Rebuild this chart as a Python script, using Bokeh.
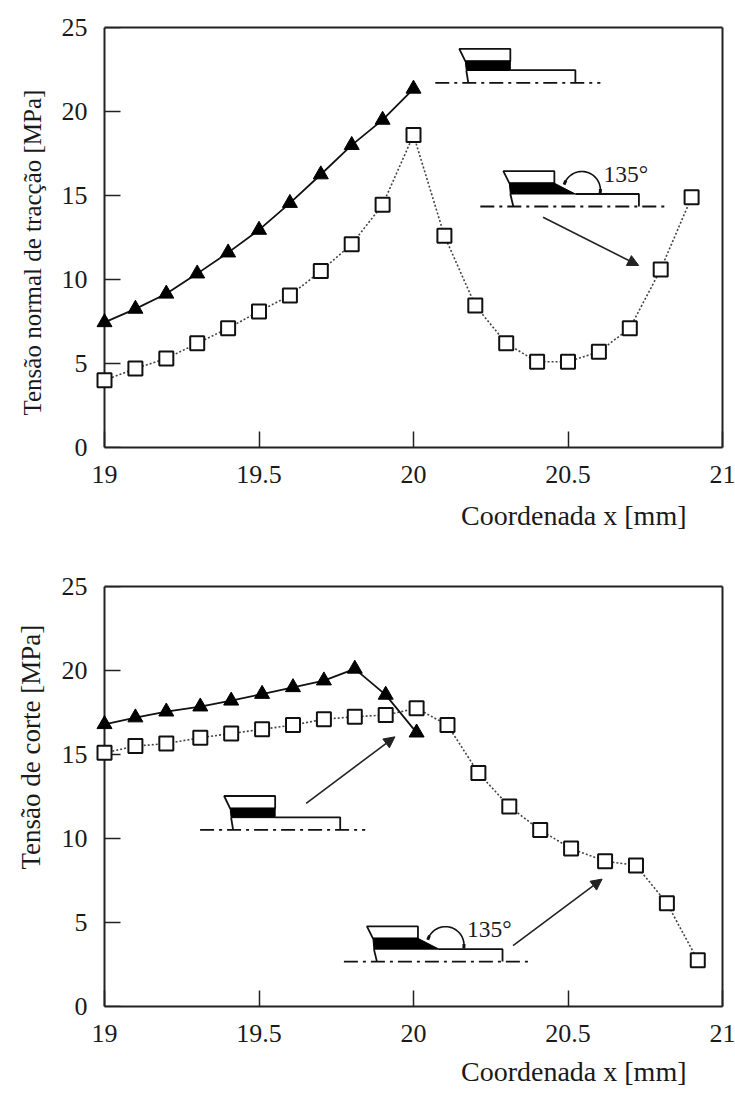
import numpy as np
from bokeh.embed import file_html
from bokeh.resources import INLINE
from bokeh.plotting import figure
from bokeh.layouts import column
from bokeh.models import Arrow, NormalHead, FixedTicker, LinearAxis, Title
from bokeh.core.properties import value

FONT = "Liberation Serif"
x_ticks = [19, 19.5, 20, 20.5, 21]
x_tick_labels = {19: "19", 19.5: "19.5", 20: "20", 20.5: "20.5", 21: "21"}
y_ticks = [0, 5, 10, 15, 20, 25]

top_open_x = [19, 19.1, 19.2, 19.3, 19.4, 19.5, 19.6, 19.7, 19.8, 19.9, 20, 20.1, 20.2, 20.3, 20.4, 20.5, 20.6, 20.7, 20.8, 20.9]
top_open_y = [4.0, 4.7, 5.3, 6.2, 7.1, 8.1, 9.05, 10.5, 12.1, 14.45, 18.6, 12.6, 8.45, 6.2, 5.1, 5.1, 5.7, 7.1, 10.6, 14.9]
top_tri_x = [19, 19.1, 19.2, 19.3, 19.4, 19.5, 19.6, 19.7, 19.8, 19.9, 20]
top_tri_y = [7.45, 8.25, 9.15, 10.35, 11.6, 12.95, 14.55, 16.25, 18.0, 19.5, 21.35]

bot_open_x = [19, 19.1, 19.2, 19.31, 19.41, 19.51, 19.61, 19.71, 19.81, 19.91, 20.01, 20.11, 20.21, 20.31, 20.41, 20.51, 20.62, 20.72, 20.82, 20.92]
bot_open_y = [15.1, 15.5, 15.65, 16.0, 16.25, 16.5, 16.75, 17.1, 17.25, 17.35, 17.75, 16.75, 13.9, 11.9, 10.5, 9.4, 8.65, 8.4, 6.15, 2.75]
bot_tri_x = [19, 19.1, 19.2, 19.31, 19.41, 19.51, 19.61, 19.71, 19.81, 19.91, 20.01]
bot_tri_y = [16.8, 17.2, 17.55, 17.85, 18.2, 18.6, 19.0, 19.4, 20.1, 18.55, 16.3]

W, H1, H2 = 735, 555, 540
FL, FR = 104.5, 722.0   # spine positions, page pixels
PAD = 14                # room left of the spine so markers on x=19 stay whole
SPINE = "#222222"
INK = "#1a1a1a"


def make(height, top_page, ftop, fbot, ylab, ylab_low_end, ylab_size, xlab_standoff):
    def X(px):
        return 19 + (np.asarray(px, float) - FL) / (FR - FL) * 2

    def Y(py):
        return (fbot - np.asarray(py, float)) / (fbot - ftop) * 25

    p = figure(width=W, height=height, x_range=(float(X(FL - PAD)), 21), y_range=(0, 25),
               output_backend="svg", toolbar_location=None,
               min_border_left=int(FL - PAD), min_border_right=int(W - FR),
               min_border_top=int(ftop - top_page), min_border_bottom=int(top_page + height - fbot))
    p.grid.visible = False
    p.outline_line_color = None
    xa, ya = p.xaxis[0], p.yaxis[0]
    for ax in (xa, ya):
        ax.major_tick_out = 0
        ax.minor_tick_line_color = None
        ax.major_label_text_font = FONT
        ax.major_label_text_font_size = "26px"
        ax.major_label_text_color = INK
    xa.axis_line_color = SPINE
    xa.axis_line_width = 2
    xa.major_tick_line_color = SPINE
    xa.major_tick_line_width = 1.5
    xa.major_tick_in = 16
    xa.ticker = FixedTicker(ticks=x_ticks)
    xa.major_label_overrides = x_tick_labels
    xa.major_label_standoff = 18
    xa.bounds = (19, 21)
    # the labelled y axis sits at the frame edge, its line and ticks on x=19
    ya.ticker = FixedTicker(ticks=y_ticks)
    ya.axis_line_color = None
    ya.major_tick_line_color = None
    ya.major_tick_in = 0
    ya.major_label_standoff = 3

    spine = LinearAxis(ticker=FixedTicker(ticks=y_ticks), fixed_location=19, axis_line_color=SPINE,
                       axis_line_width=2, major_tick_line_color=SPINE, major_tick_line_width=1.5,
                       major_tick_in=16, major_tick_out=0, minor_tick_line_color=None,
                       major_label_overrides={t: "" for t in y_ticks}, major_label_standoff=0)
    p.add_layout(spine, "left")

    # closing sides of the box
    for side, bounds in (("above", (19, 21)), ("right", (0, 25))):
        a = LinearAxis(ticker=FixedTicker(ticks=[]), axis_line_color=SPINE, axis_line_width=2,
                       major_tick_line_color=None, minor_tick_line_color=None,
                       major_label_standoff=0, bounds=bounds)
        p.add_layout(a, side)

    p.add_layout(Title(text="Coordenada x [mm]", text_font=FONT, text_font_size="28px", text_font_style="normal",
                       text_color=INK, align="left", offset=461 - (FL - PAD), standoff=xlab_standoff), "below")
    p.add_layout(Title(text=ylab, text_font=FONT, text_font_size=ylab_size, text_font_style="normal",
                       text_color=INK, align="left", offset=fbot - ylab_low_end, standoff=26), "left")
    p._X, p._Y = X, Y
    return p


def outline(p, px, py, width=1.8, color="#111111", dash="solid"):
    p.line(p._X(px), p._Y(py), line_color=color, line_width=width, line_dash=dash)


def diagram(p, dx, dy, angled):
    """Welded-joint sketch, given in page pixels relative to its left end."""
    X, Y = p._X, p._Y
    if not angled:
        bx = [459, 510, 510, 465]
        by = [48.3, 48.3, 60.7, 60.7]
        kx = [465, 510, 510, 466]
        ky = [60.7, 60.7, 70, 70]
        plate_x = [466, 468]
        plate_y = [70, 82.3]
        top_x = [510, 575, 575]
        top_y = [69.7, 69.7, 82.3]
        cx0, cx1, cy = 435, 600, 82.3
    else:
        bx = [503, 554, 554, 509]
        by = [170.7, 170.7, 182.7, 182.7]
        kx = [509, 554, 575, 510]
        ky = [182.7, 182.7, 193.5, 193.5]
        plate_x = [510, 513]
        plate_y = [193.5, 206]
        top_x = [575, 638.5, 638.5]
        top_y = [193.5, 193.5, 206]
        cx0, cx1, cy = 480, 665, 206
    bx, by, kx, ky = (np.array(a) + d for a, d in ((bx, dx), (by, dy), (kx, dx), (ky, dy)))
    p.patch(X(bx), Y(by), fill_color="white", line_color="#111111", line_width=1.8)
    p.patch(X(kx), Y(ky), fill_color="black", line_color="black", line_width=1)
    outline(p, np.array(plate_x) + dx, np.array(plate_y) + dy)
    outline(p, np.array(top_x) + dx, np.array(top_y) + dy)
    outline(p, [cx0 + dx, cx1 + dx], [cy + dy, cy + dy], dash="14 5 3 5")
    if angled:
        a = np.radians(np.linspace(-10, 163, 40))
        ax, ay = 581.5 + dx + 18.5 * np.cos(a), 189.5 + dy - 18.5 * np.sin(a)
        outline(p, ax, ay, width=1.6)
        outline(p, ax[:4], ay[:4], width=3)
        outline(p, ax[-4:], ay[-4:], width=3)
        p.text(X([603 + dx]), Y([173.5 + dy]), text=["135°"], text_font=value(FONT),
               text_font_size="23.5px", text_baseline="alphabetic", text_color=INK)


def arrow(p, x0, y0, x1, y1):
    X, Y = p._X, p._Y
    p.add_layout(Arrow(end=NormalHead(size=11, fill_color="#222222", line_color="#222222"),
                       x_start=float(X(x0)), y_start=float(Y(y0)), x_end=float(X(x1)), y_end=float(Y(y1)),
                       line_color="#222222", line_width=1.6))


def series(p, ox, oy, tx, ty):
    p.line(ox, oy, line_color="#444444", line_width=1.6, line_dash="2 2")
    p.line(tx, ty, line_color="#111111", line_width=1.8)
    p.scatter(tx, ty, marker="triangle", size=15, fill_color="black", line_color="black", level="annotation")
    p.scatter(ox, oy, marker="square", size=14, fill_color="white", line_color="#111111", line_width=2,
              level="annotation")


p1 = make(H1, 0, 27, 447, "Tensão normal de tracção [MPa]", 415, "25px", 25)
p2 = make(H2, H1, 586, 1007, "Tensão de corte [MPa]", 870, "27px", 18)

diagram(p1, 0, 0, False)
diagram(p1, 0, 0, True)
arrow(p1, 542.7, 216.7, 638.3, 265)
series(p1, top_open_x, top_open_y, top_tri_x, top_tri_y)

diagram(p2, -235, 747.7, False)
diagram(p2, -136.3, 756, True)
arrow(p2, 306, 803.3, 394.7, 736.7)
arrow(p2, 512.7, 946, 601.7, 879.3)
series(p2, bot_open_x, bot_open_y, bot_tri_x, bot_tri_y)

page = column(p1, p2, spacing=0)
open("out.html", "w").write(file_html(page, INLINE))
